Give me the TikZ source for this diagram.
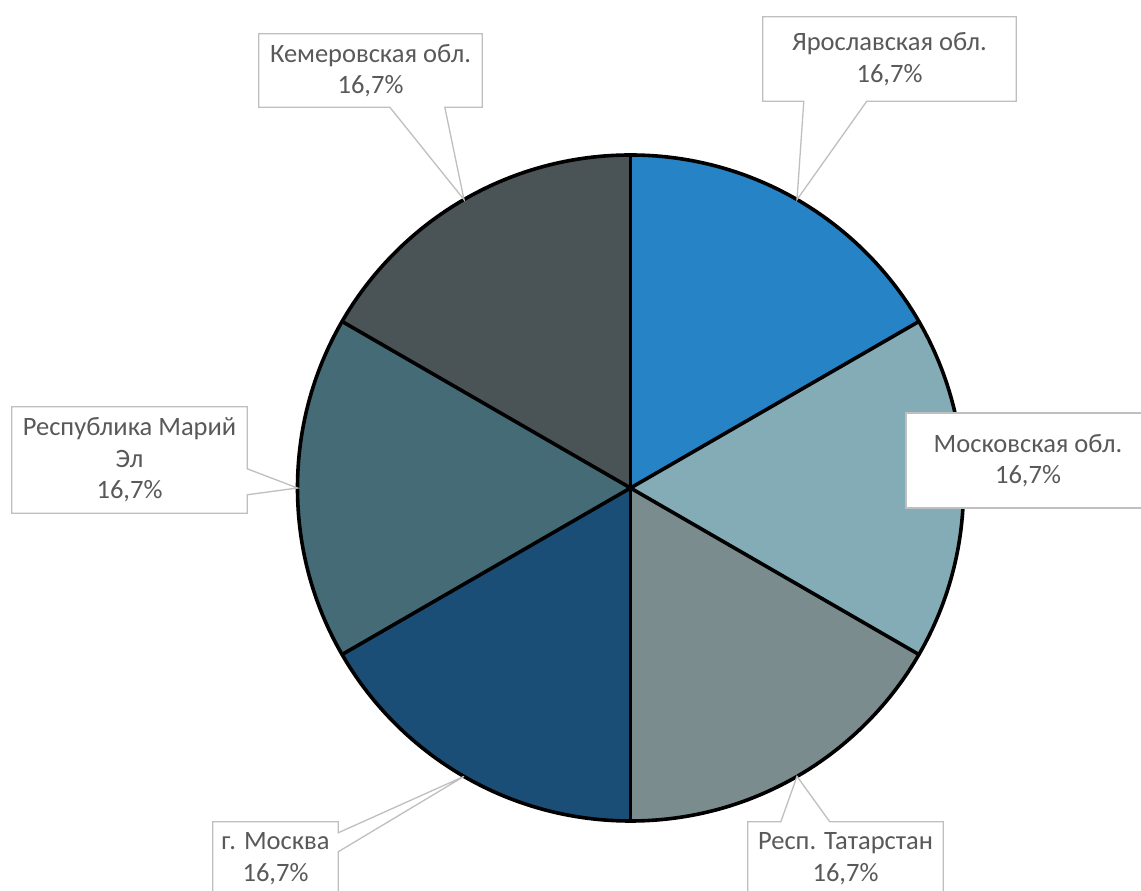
\documentclass[tikz,border=0pt]{standalone}
\usepackage{fontspec}
\setmainfont{Carlito}
\usetikzlibrary{calc}
\definecolor{cYar}{HTML}{2683C6}
\definecolor{cMos}{HTML}{84ACB6}
\definecolor{cTat}{HTML}{7A8C8E}
\definecolor{cMsk}{HTML}{1B4E76}
\definecolor{cMar}{HTML}{456C76}
\definecolor{cKem}{HTML}{4A5356}
\definecolor{lineg}{HTML}{BFBFBF}
\definecolor{txt}{HTML}{595959}
\pgfdeclarelayer{pielayer}
\pgfdeclarelayer{calllayer}
\pgfsetlayers{pielayer,calllayer,main}
\begin{document}
\begin{tikzpicture}[x=1pt,y=1pt,
  lbl/.style={align=center,text=txt,font=\fontsize{26.5}{31.5}\selectfont,inner sep=0pt},
  callout/.style={draw=lineg,fill=white,line width=1.3pt,line join=miter},
  border/.style={draw=black,line width=3.6pt,line join=round,line cap=round}]
\clip (0,0) rectangle (1141,891);
\coordinate (C) at (630.5,403);
\def\R{333}
\begin{pgfonlayer}{pielayer}
  \fill[white] (0,0) rectangle (1141,891);
  \fill[cYar] (C) -- ($(C)+(30:\R)$) arc[start angle=30,end angle=90,radius=\R] -- cycle;
  \fill[cMos] (C) -- ($(C)+(-30:\R)$) arc[start angle=-30,end angle=30,radius=\R] -- cycle;
  \fill[cTat] (C) -- ($(C)+(-90:\R)$) arc[start angle=-90,end angle=-30,radius=\R] -- cycle;
  \fill[cMsk] (C) -- ($(C)+(-150:\R)$) arc[start angle=-150,end angle=-90,radius=\R] -- cycle;
  \fill[cMar] (C) -- ($(C)+(150:\R)$) arc[start angle=150,end angle=210,radius=\R] -- cycle;
  \fill[cKem] (C) -- ($(C)+(90:\R)$) arc[start angle=90,end angle=150,radius=\R] -- cycle;
  \foreach \a in {30,90,150,210,270,330} \draw[border] (C) -- ($(C)+(\a:\R)$);
  \draw[border] (C) circle[radius=\R];
\end{pgfonlayer}
% leader tips on the pie rim
\coordinate (pYar) at ($(C)+(60:\R)$);
\coordinate (pKem) at ($(C)+(120:\R)$);
\coordinate (pMar) at ($(C)+(180:\R)$);
\coordinate (pMsk) at ($(C)+(240:\R)$);
\coordinate (pTat) at ($(C)+(300:\R)$);
% labels
\node[lbl,minimum width=223pt,minimum height=73pt] (kem) at (370.5,820.5) {Кемеровская обл.\\16,7\%};
\node[lbl,minimum width=253pt,minimum height=84pt] (yar) at (889.5,832) {Ярославская обл.\\16,7\%};
\node[lbl,minimum width=244pt,minimum height=95pt,draw=lineg,fill=white,line width=1.3pt] (mos) at (1028,430.5) {Московская обл.\\16,7\%};
\node[lbl,minimum width=195pt,minimum height=73pt] (tat) at (845.5,32.5) {Респ. Татарстан\\16,7\%};
\node[lbl,minimum width=125pt,minimum height=73pt] (msk) at (275.5,32.5) {г. Москва\\16,7\%};
\node[lbl,minimum width=235pt,minimum height=106pt] (mar) at (129.5,431) {Республика Марий\\Эл\\16,7\%};
\begin{pgfonlayer}{calllayer}
  \draw[callout] (kem.south west) -- ($(kem.south west)+(131,0)$) -- (pKem) -- ($(kem.south west)+(186,0)$)
     -- (kem.south east) -- (kem.north east) -- (kem.north west) -- cycle;
  \draw[callout] (yar.south west) -- ($(yar.south west)+(41,0)$) -- (pYar) -- ($(yar.south west)+(104,0)$)
     -- (yar.south east) -- (yar.north east) -- (yar.north west) -- cycle;
  \draw[callout] (tat.north west) -- ($(tat.north west)+(33,0)$) -- (pTat) -- ($(tat.north west)+(82,0)$)
     -- (tat.north east) -- (tat.south east) -- (tat.south west) -- cycle;
  \draw[callout] (msk.north west) -- (msk.north east) -- ($(msk.north east)+(0,-11)$) -- (pMsk) -- ($(msk.north east)+(0,-30)$)
     -- (msk.south east) -- (msk.south west) -- cycle;
  \draw[callout] (mar.north west) -- (mar.north east) -- ($(mar.north east)+(0,-62)$) -- (pMar) -- ($(mar.north east)+(0,-88)$)
     -- (mar.south east) -- (mar.south west) -- cycle;
\end{pgfonlayer}
\end{tikzpicture}
\end{document}
